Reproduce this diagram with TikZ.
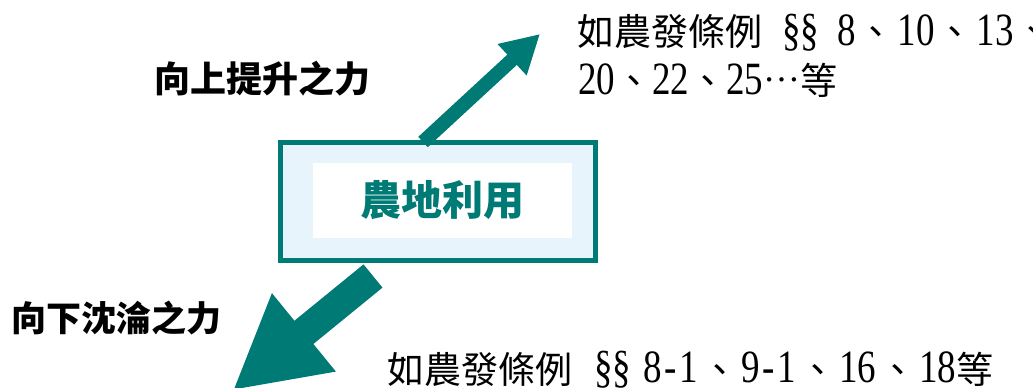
\documentclass[tikz,border=0pt]{standalone}
\usepackage{fontspec}
\usepackage{graphicx}
\setmainfont{Liberation Serif}
\newfontfamily\cjk{Noto Sans CJK TC}
\usetikzlibrary{arrows.meta}
\definecolor{tealc}{RGB}{0,122,116}
\definecolor{lightc}{RGB}{232,244,252}
\newcommand\dun{{\cjk 、}}
\newcommand\dunw{\hspace{3pt}{\cjk 、}\hspace{3pt}}
\newcommand\dunm{\hspace{2pt}{\cjk 、}\hspace{3pt}}
\newcommand\tl[1]{\scalebox{1}[1.25]{#1}}
\newcommand\hy{\makebox[18pt]{\tl{-}}}
\tikzset{
  frame/.style={draw=tealc, line width=5pt, fill=lightc, minimum width=315pt, minimum height=118pt, inner sep=0pt},
  whitebox/.style={fill=white, minimum width=259pt, minimum height=75pt, inner sep=0pt, text=tealc,
     font=\cjk\bfseries\fontsize{41}{41}\selectfont},
  label/.style={anchor=base west, inner sep=0pt, font=\cjk\bfseries\fontsize{36}{36}\selectfont},
  ref/.style={anchor=base west, inner sep=0pt, font=\fontsize{37}{37}\selectfont},
  bigarrow/.style={draw=tealc, line cap=butt}
}
\begin{document}
\begin{tikzpicture}[x=1pt,y=1pt]
\clip (0,0) rectangle (1033,388);
\fill[white] (0,0) rectangle (1033,388);
% central box
\node[frame] (box) at (438,186.5) {};
\node[whitebox] (title) at (442.5,187.5) {農地利用};
% arrows
\coordinate (upTail) at (423,246);
\coordinate (upTip) at (540,354);
\coordinate (dnTail) at (373,112);
\coordinate (dnTip) at (232.6,-2.5);
\draw[bigarrow, line width=14pt, -{Triangle[length=38pt,width=40pt]}] (upTail) -- (upTip);
\draw[bigarrow, line width=30pt, -{Triangle[length=92pt,width=94pt]}] (dnTail) -- (dnTip);
% labels
\node[label] (upLabel) at (154,295.3) {向上提升之力};
\node[label, font=\cjk\bfseries\fontsize{35}{35}\selectfont] (dnLabel) at (11,56.7) {向下沈淪之力};
% references
\node[ref] (upRef1) at (577,342) {{\cjk 如農發條例}\hspace{20pt}\tl{§§}\hspace{18pt}\tl{8}\dunm\tl{10}\dunm\tl{13}\dunm};
\node[ref] (upRef2) at (578,293) {\tl{20}\dun\tl{22}\dun\tl{25}\raisebox{13pt}{…}{\cjk 等}};
\node[ref] (dnRef) at (387,5) {{\cjk 如農發條例}\hspace{22pt}\tl{§§}\hspace{12pt}\tl{8}\hy\tl{1}\dunw\tl{9}\hy\tl{1}\dunw\tl{16}\dunw\tl{18}{\cjk 等}};
\end{tikzpicture}
\end{document}
